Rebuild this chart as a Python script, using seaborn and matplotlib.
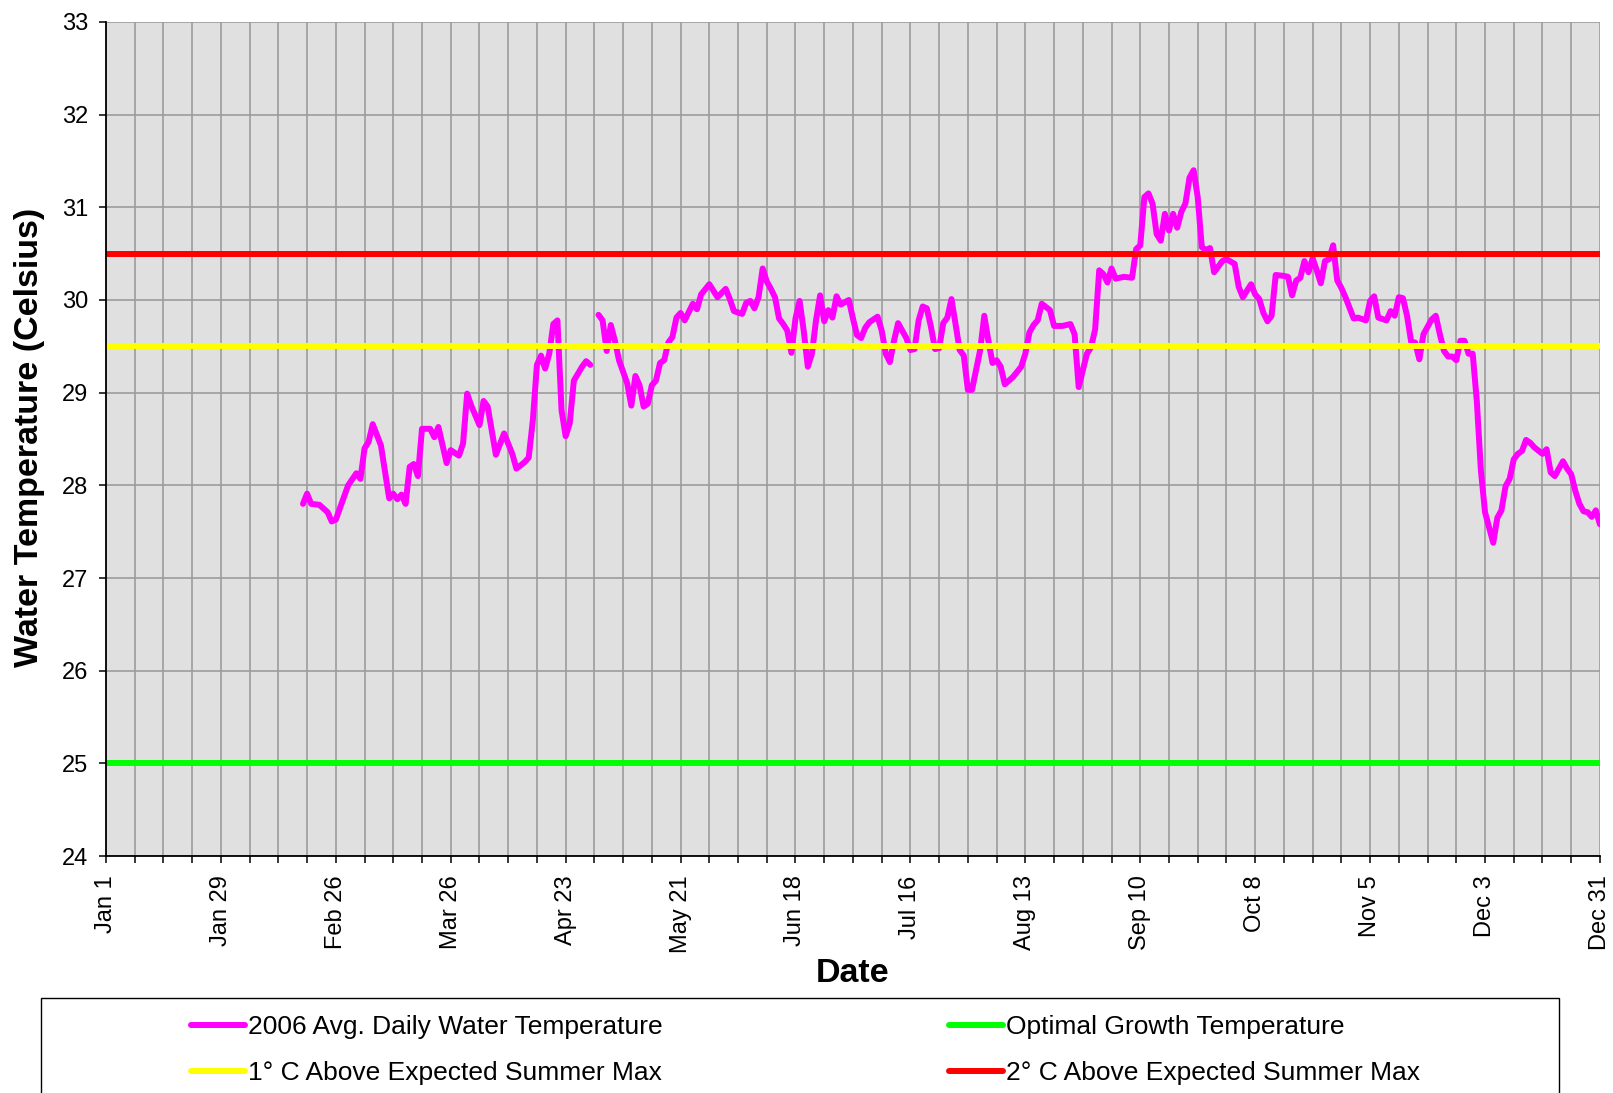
import pandas as pd
import matplotlib.pyplot as plt
import seaborn as sns
from matplotlib.lines import Line2D
from matplotlib.patches import Rectangle

# day of year (Jan 1 = 0) and daily average water temperature, 2006
days_feb_apr = [48, 49, 50, 52, 54, 55, 56, 59, 61, 62, 63, 64, 65, 67, 69, 70, 71, 72, 73, 74,
                75, 76, 77, 79, 80, 81, 83, 84, 86, 87, 88, 89, 91, 92, 93, 95, 97, 99, 100, 102,
                103, 104, 105, 106, 107, 108, 109, 110, 111, 112, 113, 114, 116, 117, 118]
temps_feb_apr = [27.80, 27.91, 27.80, 27.79, 27.71, 27.61, 27.63, 28.00, 28.13, 28.07, 28.40, 28.47,
                 28.66, 28.43, 27.86, 27.91, 27.85, 27.90, 27.80, 28.20, 28.23, 28.10, 28.61, 28.61,
                 28.52, 28.63, 28.24, 28.38, 28.32, 28.45, 28.99, 28.86, 28.65, 28.91, 28.85, 28.33,
                 28.56, 28.34, 28.18, 28.25, 28.30, 28.70, 29.30, 29.40, 29.26, 29.42, 29.74, 29.78,
                 28.81, 28.53, 28.67, 29.13, 29.28, 29.34, 29.30]

days_may_dec = [120, 121, 122, 123, 124, 125, 127, 128, 129, 130, 131, 132, 133, 134, 135, 136, 137,
                138, 139, 140, 141, 143, 144, 145, 147, 149, 151, 152, 153, 155, 156, 157, 158, 159,
                160, 161, 162, 163, 164, 165, 166, 167, 168, 169, 170, 171, 172, 173, 174, 175, 176,
                177, 178, 179, 181, 182, 183, 184, 185, 186, 188, 189, 190, 191, 192, 193, 195, 196,
                197, 198, 199, 200, 201, 202, 203, 204, 205, 206, 207, 208, 209, 210, 211, 213, 214,
                215, 216, 217, 218, 219, 221, 223, 224, 225, 226, 227, 228, 230, 231, 233, 235, 236,
                237, 238, 239, 240, 241, 242, 243, 244, 245, 246, 248, 250, 251, 252, 253, 254, 255,
                256, 257, 258, 259, 260, 261, 262, 263, 264, 265, 266, 267, 268, 269, 270, 272, 273,
                275, 276, 277, 279, 280, 281, 282, 283, 284, 285, 287, 288, 289, 290, 291, 292, 293,
                294, 295, 296, 297, 298, 299, 300, 301, 302, 304, 305, 307, 308, 309, 310, 312, 313,
                314, 315, 316, 317, 318, 319, 320, 321, 323, 324, 325, 326, 327, 328, 329, 330, 331,
                332, 333, 334, 335, 336, 338, 339, 340, 341, 342, 343, 344, 345, 346, 347, 348, 350,
                351, 352, 353, 354, 355, 356, 357, 358, 359, 360, 361, 362, 363, 364]
temps_may_dec = [29.84, 29.78, 29.45, 29.73, 29.56, 29.35, 29.10, 28.86, 29.18, 29.08, 28.85, 28.88,
                 29.08, 29.13, 29.32, 29.35, 29.54, 29.60, 29.81, 29.86, 29.78, 29.96, 29.90, 30.06,
                 30.17, 30.03, 30.12, 30.01, 29.88, 29.85, 29.97, 29.99, 29.91, 30.03, 30.34, 30.20,
                 30.12, 30.03, 29.80, 29.74, 29.67, 29.43, 29.80, 29.99, 29.67, 29.28, 29.42, 29.78,
                 30.05, 29.77, 29.89, 29.81, 30.04, 29.95, 30.00, 29.80, 29.62, 29.59, 29.70, 29.76,
                 29.82, 29.67, 29.42, 29.33, 29.56, 29.75, 29.59, 29.46, 29.47, 29.78, 29.93, 29.91,
                 29.71, 29.47, 29.48, 29.75, 29.81, 30.01, 29.74, 29.46, 29.40, 29.03, 29.03, 29.46,
                 29.83, 29.56, 29.32, 29.35, 29.28, 29.09, 29.17, 29.28, 29.42, 29.65, 29.73, 29.78,
                 29.96, 29.89, 29.72, 29.72, 29.74, 29.63, 29.06, 29.24, 29.42, 29.49, 29.68, 30.32,
                 30.28, 30.19, 30.34, 30.23, 30.25, 30.24, 30.55, 30.59, 31.11, 31.15, 31.04, 30.71,
                 30.64, 30.93, 30.75, 30.93, 30.78, 30.95, 31.04, 31.32, 31.40, 31.11, 30.57, 30.54,
                 30.56, 30.30, 30.42, 30.44, 30.39, 30.14, 30.03, 30.17, 30.06, 30.01, 29.86, 29.77,
                 29.83, 30.27, 30.26, 30.25, 30.05, 30.21, 30.24, 30.42, 30.30, 30.45, 30.32, 30.18,
                 30.42, 30.44, 30.59, 30.21, 30.13, 30.03, 29.80, 29.81, 29.78, 29.99, 30.04, 29.81,
                 29.78, 29.88, 29.83, 30.03, 30.02, 29.83, 29.55, 29.54, 29.36, 29.63, 29.79, 29.83,
                 29.63, 29.45, 29.39, 29.39, 29.35, 29.56, 29.56, 29.42, 29.42, 28.91, 28.16, 27.71,
                 27.38, 27.65, 27.73, 27.99, 28.07, 28.28, 28.34, 28.37, 28.49, 28.46, 28.41, 28.34,
                 28.39, 28.14, 28.10, 28.18, 28.26, 28.18, 28.12, 27.94, 27.80, 27.72, 27.71, 27.66,
                 27.73, 27.58]

optimal_growth = 25.0
one_above_max = 29.5
two_above_max = 30.5

tick_labels = ['Jan 1', 'Jan 29', 'Feb 26', 'Mar 26', 'Apr 23', 'May 21', 'Jun 18', 'Jul 16',
               'Aug 13', 'Sep 10', 'Oct 8', 'Nov 5', 'Dec 3', 'Dec 31']

series_labels = ['2006 Avg. Daily Water Temperature', 'Optimal Growth Temperature',
                 '1\u00b0 C Above Expected Summer Max', '2\u00b0 C Above Expected Summer Max']

start = pd.Timestamp('2006-01-01')
df = pd.concat([
    pd.DataFrame({'Date': start + pd.to_timedelta(days_feb_apr, unit='D'),
                  'Temp': temps_feb_apr, 'segment': 0}),
    pd.DataFrame({'Date': start + pd.to_timedelta(days_may_dec, unit='D'),
                  'Temp': temps_may_dec, 'segment': 1}),
])

sns.set_style('white')
plt.rcParams['font.family'] = ['Liberation Sans', 'DejaVu Sans']
plt.rcParams['text.color'] = 'black'
plt.rcParams['axes.labelcolor'] = 'black'
plt.rcParams['xtick.color'] = 'black'
plt.rcParams['ytick.color'] = 'black'

fig = plt.figure(figsize=(16.13, 10.93), dpi=100)
ax = fig.add_axes([0.0657, 0.2168, 0.9262, 0.7631])
ax.set_facecolor('#e0e0e0')

lw = 4.3
sns.lineplot(data=df, x='Date', y='Temp', units='segment', estimator=None,
             color='#ff00ff', linewidth=lw, ax=ax, zorder=3, solid_capstyle='round')
ax.axhline(optimal_growth, color='#00ff00', lw=lw, zorder=4, solid_capstyle='round')
ax.axhline(one_above_max, color='#ffff00', lw=lw, zorder=4, solid_capstyle='round')
ax.axhline(two_above_max, color='#ff0000', lw=lw, zorder=4, solid_capstyle='round')

# axes
ax.set_xlim(start, pd.Timestamp('2006-12-31'))
ax.set_ylim(24, 33)
ax.set_yticks(range(24, 34))
major = pd.date_range(start, '2006-12-31', freq='28D')
minor = pd.date_range(start, '2006-12-31', freq='7D')
ax.set_xticks(major)
ax.set_xticklabels(tick_labels, rotation=90)
ax.set_xticks(minor, minor=True)

ax.grid(True, which='both', axis='x', color='#9c9c9c', lw=1.2)
ax.grid(True, which='major', axis='y', color='#9c9c9c', lw=1.2)
ax.set_axisbelow(True)
for s in ['top', 'right']:
    ax.spines[s].set_visible(False)
for s in ['left', 'bottom']:
    ax.spines[s].set_color('black')
    ax.spines[s].set_linewidth(1.3)
    ax.spines[s].set_zorder(5)

ax.tick_params(axis='both', which='both', direction='out', length=5, width=1.1,
               color='black', labelcolor='black', labelsize=17, left=True, bottom=True)
ax.tick_params(axis='x', which='both', pad=9)
ax.tick_params(axis='y', pad=8)

ax.set_xlabel('Date', fontsize=24.5, fontweight='bold')
ax.set_ylabel('Water Temperature (Celsius)', fontsize=24.5, fontweight='bold')
ax.xaxis.set_label_coords(0.5, -0.1405)
ax.xaxis.label.set_va('center')
ax.yaxis.set_label_coords(-0.0515, 0.502)
ax.yaxis.label.set_va('center')

# legend box, running off the bottom edge
fig.add_artist(Rectangle((41 / 1613, -0.05), (1559 - 41) / 1613, 0.05 + 1 - 998 / 1093,
                         transform=fig.transFigure, fill=False, edgecolor='black', lw=1.0))

def handle(c):
    return Line2D([], [], color=c, lw=lw, solid_capstyle='round')

leg_kw = dict(loc='upper left', frameon=False, borderpad=0, borderaxespad=0,
              handlelength=2.05, handletextpad=0.11, labelspacing=0.83,
              prop={'size': 19})
fig.legend([handle('#ff00ff'), handle('#ffff00')], [series_labels[0], series_labels[2]],
           bbox_to_anchor=(191 / 1613, 1 - 1015 / 1093), **leg_kw)
fig.legend([handle('#00ff00'), handle('#ff0000')], [series_labels[1], series_labels[3]],
           bbox_to_anchor=(949 / 1613, 1 - 1015 / 1093), **leg_kw)

fig.savefig('out.png', dpi=100)
